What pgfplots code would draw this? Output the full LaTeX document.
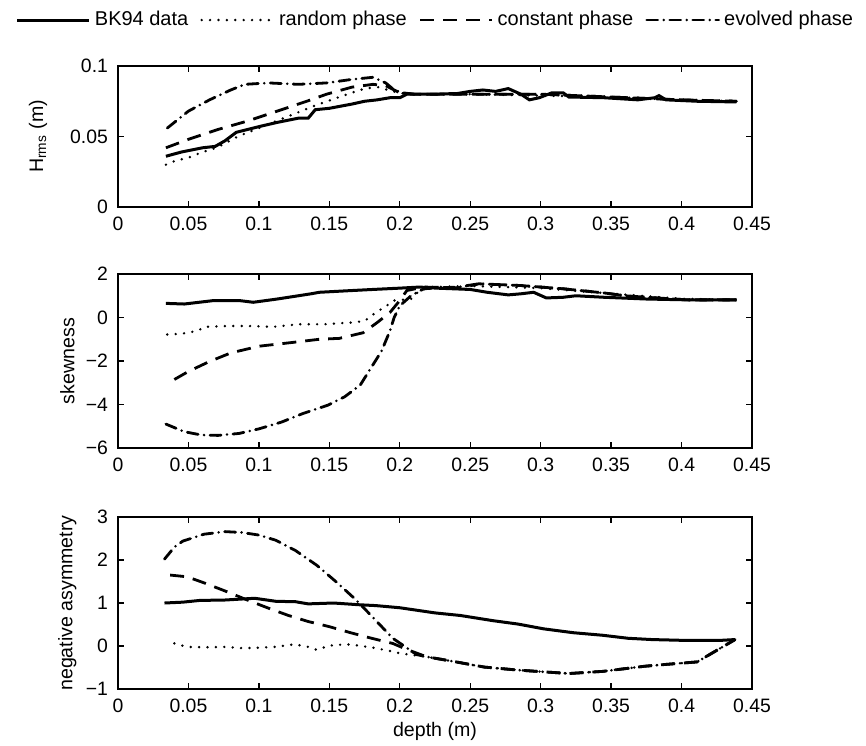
\documentclass[border=0pt]{standalone}
\usepackage{fontspec}
\setmainfont{Liberation Sans}
\usepackage{pgfplots}
\pgfplotsset{compat=1.18}

% 1 px of the reference = 0.5pt
\pgfplotsset{
  panel/.style={
    scale only axis, width=317pt, anchor=north west,
    xmin=0, xmax=0.45,
    xtick={0,0.05,0.1,0.15,0.2,0.25,0.3,0.35,0.4,0.45},
    xticklabels={0,0.05,0.1,0.15,0.2,0.25,0.3,0.35,0.4,0.45},
    tick align=inside, major tick length=2.8pt,
    axis line style={line width=0.65pt},
    every tick/.style={line width=0.65pt, black},
    /pgf/number format/assume math mode=true,
    tick label style={font=\fontsize{9.7}{11}\selectfont},
    label style={font=\fontsize{9.8}{11}\selectfont},
    xticklabel style={yshift=-1.5pt},
    yticklabel style={xshift=-1.5pt},
  },
  bk/.style={black, line width=1.5pt},
  rnd/.style={black, line width=1.35pt, line cap=round, dash pattern=on 0pt off 4.2pt},
  cst/.style={black, line width=1.4pt, dash pattern=on 7pt off 4.5pt},
  evo/.style={black, line width=1.4pt, line cap=round, dash pattern=on 5.5pt off 3pt on 0pt off 3pt},
}

\begin{document}
\begin{tikzpicture}
\useasboundingbox (0,0) rectangle (433pt,-372.5pt);

% panel 1: Hrms
\begin{axis}[panel, at={(59pt,-33pt)}, height=70.5pt,
  ymin=0, ymax=0.1, ytick={0,0.05,0.1}, yticklabels={0,0.05,0.1},
  ylabel={H\textsubscript{rms} (m)},
  ylabel style={at={(axis description cs:-0.126,0.5)}, anchor=center},
  legend columns=4,
  legend style={at={(0.5024,1.326)}, anchor=center, draw=none, fill=none,
    font=\fontsize{10}{12}\selectfont, inner sep=0pt,
    nodes={inner sep=2pt},
    /tikz/every even column/.append style={column sep=4pt}},
  legend image code/.code={\draw[#1] (0pt,0pt) -- (36pt,0pt);},
]
\addplot[bk] coordinates {(0.034,0.036) (0.045,0.039) (0.05,0.040) (0.06,0.042) (0.069,0.043) (0.076,0.047) (0.084,0.053) (0.1,0.057) (0.113,0.060) (0.128,0.063) (0.135,0.063) (0.14,0.069) (0.15,0.070) (0.166,0.073) (0.175,0.075) (0.184,0.076) (0.193,0.0775) (0.2,0.0775) (0.205,0.080) (0.223,0.080) (0.241,0.0805) (0.25,0.082) (0.259,0.083) (0.268,0.082) (0.277,0.084) (0.286,0.080) (0.292,0.076) (0.299,0.0775) (0.308,0.081) (0.316,0.081) (0.32,0.078) (0.345,0.0775) (0.369,0.076) (0.381,0.0775) (0.384,0.079) (0.389,0.076) (0.411,0.075) (0.439,0.0745)};
\addplot[rnd] coordinates {(0.034,0.030) (0.04,0.0325) (0.05,0.035) (0.06,0.039) (0.07,0.042) (0.085,0.050) (0.1,0.056) (0.12,0.064) (0.14,0.072) (0.16,0.079) (0.175,0.084) (0.185,0.085) (0.195,0.082) (0.205,0.080) (0.25,0.080) (0.3,0.079) (0.35,0.078) (0.4,0.076) (0.439,0.075)};
\addplot[cst] coordinates {(0.034,0.042) (0.05,0.048) (0.071,0.055) (0.092,0.061) (0.113,0.068) (0.134,0.075) (0.148,0.080) (0.166,0.085) (0.181,0.087) (0.19,0.086) (0.2,0.081) (0.21,0.080) (0.25,0.080) (0.3,0.080) (0.35,0.078) (0.4,0.076) (0.439,0.075)};
\addplot[evo] coordinates {(0.035,0.056) (0.05,0.068) (0.065,0.076) (0.08,0.083) (0.09,0.087) (0.107,0.088) (0.128,0.087) (0.148,0.088) (0.166,0.0905) (0.181,0.092) (0.19,0.088) (0.196,0.083) (0.202,0.081) (0.21,0.080) (0.25,0.080) (0.3,0.080) (0.35,0.078) (0.4,0.076) (0.439,0.075)};
\legend{BK94 data, random phase, constant phase, evolved phase}
\end{axis}

% panel 2: skewness
\begin{axis}[panel, at={(59pt,-137pt)}, height=87pt,
  ymin=-6, ymax=2, ytick={-6,-4,-2,0,2}, yticklabels={−6,−4,−2,0,2},
  ylabel={skewness},
  ylabel style={at={(axis description cs:-0.080,0.5)}, anchor=center},
]
\addplot[bk] coordinates {(0.034,0.65) (0.047,0.62) (0.068,0.78) (0.086,0.78) (0.096,0.70) (0.113,0.85) (0.128,1.0) (0.137,1.09) (0.143,1.16) (0.166,1.24) (0.181,1.29) (0.2,1.35) (0.214,1.40) (0.226,1.35) (0.25,1.29) (0.262,1.16) (0.277,1.04) (0.286,1.09) (0.295,1.16) (0.304,0.90) (0.316,0.93) (0.325,1.0) (0.345,0.93) (0.375,0.85) (0.405,0.81) (0.439,0.81)};
\addplot[rnd] coordinates {(0.035,-0.78) (0.045,-0.75) (0.056,-0.62) (0.062,-0.43) (0.077,-0.39) (0.092,-0.39) (0.11,-0.43) (0.128,-0.31) (0.146,-0.31) (0.166,-0.23) (0.175,-0.16) (0.183,0.23) (0.189,0.47) (0.196,0.78) (0.208,0.85) (0.214,1.24) (0.223,1.40) (0.25,1.45) (0.3,1.35) (0.35,1.1) (0.4,0.86) (0.439,0.81)};
\addplot[cst] coordinates {(0.04,-2.85) (0.05,-2.48) (0.065,-2.02) (0.08,-1.63) (0.1,-1.32) (0.122,-1.16) (0.143,-1.0) (0.157,-0.96) (0.174,-0.70) (0.184,-0.23) (0.193,0.23) (0.2,0.78) (0.205,1.24) (0.217,1.40) (0.244,1.36) (0.256,1.55) (0.286,1.47) (0.316,1.32) (0.345,1.13) (0.36,1.0) (0.375,0.93) (0.405,0.81) (0.439,0.81)};
\addplot[evo] coordinates {(0.034,-4.9) (0.047,-5.25) (0.059,-5.4) (0.071,-5.42) (0.086,-5.33) (0.1,-5.12) (0.116,-4.81) (0.131,-4.42) (0.149,-4.03) (0.161,-3.64) (0.172,-3.10) (0.181,-2.17) (0.187,-1.55) (0.193,-0.62) (0.196,0.0) (0.2,0.54) (0.208,1.0) (0.217,1.32) (0.226,1.36) (0.241,1.40) (0.256,1.55) (0.286,1.47) (0.316,1.32) (0.345,1.13) (0.36,1.0) (0.375,0.93) (0.405,0.81) (0.439,0.81)};
\end{axis}

% panel 3: negative asymmetry
\begin{axis}[panel, at={(59pt,-258.5pt)}, height=86pt,
  ymin=-1, ymax=3, ytick={-1,0,1,2,3}, yticklabels={−1,0,1,2,3},
  ylabel={negative asymmetry},
  ylabel style={at={(axis description cs:-0.080,0.5)}, anchor=center},
  xlabel={depth (m)},
  xlabel style={at={(axis description cs:0.5,-0.245)}, anchor=center},
]
\addplot[bk] coordinates {(0.033,1.0) (0.046,1.02) (0.058,1.06) (0.076,1.07) (0.097,1.11) (0.112,1.04) (0.126,1.03) (0.135,0.98) (0.153,1.0) (0.171,0.96) (0.183,0.94) (0.2,0.89) (0.225,0.77) (0.243,0.71) (0.266,0.59) (0.284,0.51) (0.302,0.40) (0.323,0.31) (0.344,0.25) (0.362,0.18) (0.379,0.15) (0.403,0.13) (0.427,0.13) (0.438,0.15)};
\addplot[rnd] coordinates {(0.04,0.06) (0.049,-0.02) (0.061,-0.03) (0.076,-0.02) (0.088,-0.05) (0.1,-0.04) (0.112,-0.02) (0.125,0.04) (0.135,-0.02) (0.141,-0.09) (0.15,0.01) (0.162,0.04) (0.171,0.01) (0.183,-0.05) (0.195,-0.13) (0.2,-0.17) (0.219,-0.25) (0.24,-0.37) (0.26,-0.49) (0.284,-0.56) (0.302,-0.60) (0.32,-0.64) (0.344,-0.59) (0.374,-0.47) (0.388,-0.43) (0.411,-0.37) (0.438,0.15)};
\addplot[cst] coordinates {(0.037,1.65) (0.049,1.61) (0.061,1.47) (0.076,1.28) (0.091,1.08) (0.106,0.89) (0.121,0.71) (0.135,0.57) (0.15,0.45) (0.165,0.31) (0.18,0.18) (0.195,0.06) (0.205,-0.08) (0.219,-0.25) (0.24,-0.37) (0.26,-0.49) (0.284,-0.56) (0.302,-0.60) (0.32,-0.64) (0.344,-0.59) (0.374,-0.47) (0.388,-0.43) (0.411,-0.37) (0.438,0.15)};
\addplot[evo] coordinates {(0.033,2.02) (0.04,2.30) (0.046,2.44) (0.061,2.60) (0.076,2.66) (0.088,2.64) (0.1,2.58) (0.112,2.46) (0.126,2.22) (0.141,1.88) (0.156,1.46) (0.168,1.10) (0.177,0.80) (0.186,0.49) (0.195,0.18) (0.204,-0.02) (0.212,-0.2) (0.219,-0.25) (0.24,-0.37) (0.26,-0.49) (0.284,-0.56) (0.302,-0.60) (0.32,-0.64) (0.344,-0.59) (0.374,-0.47) (0.388,-0.43) (0.411,-0.37) (0.438,0.15)};
\end{axis}
\end{tikzpicture}
\end{document}
